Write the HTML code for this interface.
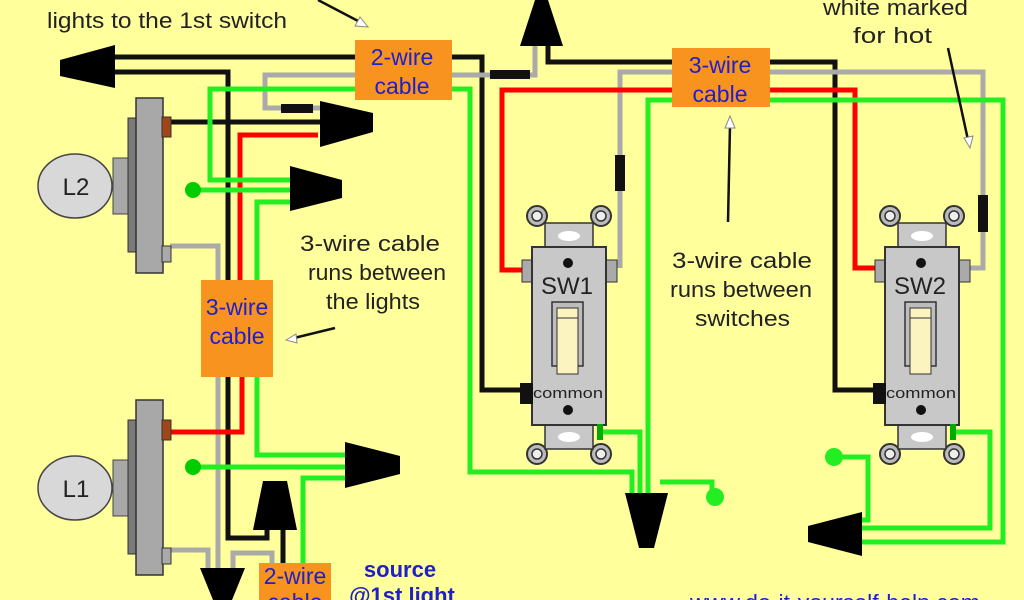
<!DOCTYPE html>
<html><head><meta charset="utf-8"><style>
html,body{margin:0;padding:0;background:#ffff9c;}
svg{display:block;}
text{font-family:"Liberation Sans",sans-serif;}
</style></head><body>
<svg width="1024" height="600" viewBox="0 0 1024 600" xmlns="http://www.w3.org/2000/svg">
<defs>
<g id="sw">
  <circle cx="537" cy="216" r="10" fill="#bbb" stroke="#333" stroke-width="2"/><circle cx="537" cy="216" r="5" fill="#eee" stroke="#333" stroke-width="1.5"/>
  <circle cx="601" cy="216" r="10" fill="#bbb" stroke="#333" stroke-width="2"/><circle cx="601" cy="216" r="5" fill="#eee" stroke="#333" stroke-width="1.5"/>
  <circle cx="537" cy="454" r="10" fill="#bbb" stroke="#333" stroke-width="2"/><circle cx="537" cy="454" r="5" fill="#eee" stroke="#333" stroke-width="1.5"/>
  <circle cx="601" cy="454" r="10" fill="#bbb" stroke="#333" stroke-width="2"/><circle cx="601" cy="454" r="5" fill="#eee" stroke="#333" stroke-width="1.5"/>
  <rect x="545" y="223" width="48" height="25" fill="#c8c8c8" stroke="#333" stroke-width="1.5"/>
  <ellipse cx="569" cy="236" rx="11" ry="5" fill="#fff"/>
  <rect x="545" y="424" width="48" height="25" fill="#c8c8c8" stroke="#333" stroke-width="1.5"/>
  <ellipse cx="569" cy="437" rx="11" ry="5" fill="#fff"/>
  <rect x="522" y="260" width="11" height="22" fill="#aaa" stroke="#333"/>
  <rect x="606" y="260" width="11" height="22" fill="#aaa" stroke="#333"/>
  <rect x="532" y="247" width="74" height="178" fill="#c8c8c8" stroke="#333" stroke-width="2"/>
  <rect x="520" y="383" width="13" height="21" fill="#111"/>
  <rect x="597" y="424" width="6" height="16" fill="#0a0"/>
  <circle cx="568" cy="263" r="5" fill="#111"/>
  <circle cx="568" cy="410" r="5" fill="#111"/>
  <rect x="552" y="302" width="31" height="64" fill="#bdbdbd" stroke="#333" stroke-width="1.5"/>
  <rect x="557" y="308" width="21" height="66" fill="#fbf3c0" stroke="#333" stroke-width="1"/>
  <line x1="557" y1="318" x2="578" y2="318" stroke="#333"/>
  <text x="533" y="398" font-size="15" textLength="70" lengthAdjust="spacingAndGlyphs" fill="#222">common</text>
</g>
<g id="fix">
  <ellipse cx="75" cy="0" rx="37" ry="32" fill="#d8d8d8" stroke="#444" stroke-width="1.5"/>
  <rect x="113" y="-28" width="18" height="56" fill="#a8a8a8" stroke="#444"/>
  <rect x="128" y="-68" width="10" height="134" fill="#7a7a7a" stroke="#333"/>
  <rect x="136" y="-88" width="27" height="175" fill="#a8a8a8" stroke="#333" stroke-width="1.5"/>
  <rect x="162" y="60" width="9" height="16" fill="#aaa" stroke="#333"/>
</g>
</defs>

<g fill="none" stroke-width="5">
<polyline points="115,57 482,57 482,390 525,390" stroke="#111"/>
<polyline points="115,72 228,72 228,538 267,538 267,505" stroke="#111"/>
<polyline points="452,75 535,75 535,40" stroke="#aaa"/>
<polyline points="355,75 265,75 265,108 320,108" stroke="#aaa"/>
<line x1="170" y1="122" x2="322" y2="122" stroke="#111"/>
<polyline points="318,135 240,135 240,280" stroke="#f00"/>
<polyline points="355,89 210,89 210,180 292,180" stroke="#2e2" />
<polyline points="292,202 257,202 257,280" stroke="#2e2"/>
<line x1="193" y1="190" x2="292" y2="190" stroke="#2e2"/>
<polyline points="170,246 218,246 218,280" stroke="#aaa"/>
<polyline points="452,89 470,89 470,472 632,472 632,495" stroke="#2e2"/>
<line x1="218" y1="377" x2="218" y2="600" stroke="#aaa"/>
<polyline points="242,377 242,432 170,432" stroke="#f00"/>
<polyline points="257,377 257,455 347,455" stroke="#2e2"/>
<line x1="193" y1="467" x2="347" y2="467" stroke="#2e2"/>
<polyline points="347,478 303,478 303,565" stroke="#2e2"/>
<line x1="283" y1="525" x2="283" y2="565" stroke="#111"/>
<polyline points="170,550 208,550 208,575" stroke="#aaa"/>
<polyline points="233,575 233,553 272,553 272,565" stroke="#aaa"/>
<polyline points="548,40 548,62 835,62 835,390 885,390" stroke="#111"/>
<polyline points="620,268 620,72 983,72 983,268 960,268" stroke="#aaa"/>
<polyline points="522,270 502,270 502,90 855,90 855,268 875,268" stroke="#f00"/>
<polyline points="648,495 648,100 1003,100 1003,542 860,542" stroke="#2e2"/>
<polyline points="600,432 640,432 640,495" stroke="#2e2"/>
<polyline points="660,482 712,482 712,497" stroke="#2e2"/>
<polyline points="952,432 990,432 990,528 860,528" stroke="#2e2"/>
<polyline points="833,457 868,457 868,520 860,520" stroke="#2e2"/>
</g>
<circle cx="193" cy="190" r="8" fill="#0c0"/>
<circle cx="193" cy="467" r="8" fill="#0c0"/>
<circle cx="715" cy="497" r="9" fill="#2e2"/>
<circle cx="834" cy="457" r="9" fill="#2e2"/>
<rect x="281" y="104" width="32" height="9" fill="#111"/>
<rect x="490" y="70" width="40" height="9" fill="#111"/>
<rect x="615" y="155" width="10" height="36" fill="#111"/>
<rect x="978" y="195" width="10" height="37" fill="#111"/>

<g fill="#000">
<polygon points="60,60 115,45 115,88 60,76"/>
<polygon points="320,101 373,113 373,132 320,147"/>
<polygon points="290,166 342,180 342,198 290,211"/>
<polygon points="345,442 400,456 400,474 345,488"/>
<polygon points="253,530 297,530 287,481 263,481"/>
<polygon points="200,568 245,568 232,600 213,600"/>
<polygon points="520,46 563,46 548,0 535,0"/>
<polygon points="625,493 668,493 654,548 639,548"/>
<polygon points="862,512 862,556 808,542 808,526"/>
</g>

<use href="#fix" transform="translate(0,186)"/>
<use href="#fix" transform="translate(0,488)"/>
<rect x="162" y="117" width="9" height="20" fill="#a0441a" stroke="#333"/>
<rect x="162" y="420" width="9" height="20" fill="#a0441a" stroke="#333"/>
<text x="76" y="195" font-size="24" text-anchor="middle" fill="#222">L2</text>
<text x="76" y="497" font-size="24" text-anchor="middle" fill="#222">L1</text>

<use href="#sw"/>
<use href="#sw" transform="translate(353,0)"/>
<text x="567" y="294" font-size="24" text-anchor="middle" fill="#222">SW1</text>
<text x="920" y="294" font-size="24" text-anchor="middle" fill="#222">SW2</text>

<g fill="#f7931e">
<rect x="355" y="40" width="97" height="60"/>
<rect x="672" y="48" width="98" height="59"/>
<rect x="201" y="280" width="72" height="97"/>
<rect x="259" y="563" width="72" height="40"/>
</g>
<g fill="#2020c8" font-size="23" text-anchor="middle">
<text x="402" y="65">2-wire</text><text x="402" y="94">cable</text>
<text x="720" y="73">3-wire</text><text x="720" y="102">cable</text>
<text x="237" y="315">3-wire</text><text x="237" y="344">cable</text>
<text x="295" y="584">2-wire</text><text x="295" y="610">cable</text>
</g>
<g fill="#2020c8" font-size="22" font-weight="bold" text-anchor="middle">
<text x="400" y="577">source</text><text x="402" y="603">@1st light</text>
</g>
<text x="690" y="610" font-size="22" fill="#2020c8" textLength="290" lengthAdjust="spacingAndGlyphs">www.do-it-yourself-help.com</text>

<g fill="#222" font-size="22">
<text x="47" y="28" textLength="240" lengthAdjust="spacingAndGlyphs">lights to the 1st switch</text>
<text x="300" y="251" textLength="140" lengthAdjust="spacingAndGlyphs">3-wire cable</text>
<text x="308" y="280" textLength="138" lengthAdjust="spacingAndGlyphs">runs between</text>
<text x="326" y="309" textLength="94" lengthAdjust="spacingAndGlyphs">the lights</text>
<text x="672" y="268" textLength="140" lengthAdjust="spacingAndGlyphs">3-wire cable</text>
<text x="670" y="297" textLength="142" lengthAdjust="spacingAndGlyphs">runs between</text>
<text x="695" y="326" textLength="95" lengthAdjust="spacingAndGlyphs">switches</text>
<text x="823" y="15" textLength="145" lengthAdjust="spacingAndGlyphs">white marked</text>
<text x="853" y="43" textLength="79" lengthAdjust="spacingAndGlyphs">for hot</text>
</g>
<g stroke="#111" stroke-width="2.5" fill="none">
<line x1="318" y1="0" x2="360" y2="22"/>
<line x1="335" y1="328" x2="294" y2="338"/>
<line x1="728" y1="222" x2="730" y2="125"/>
<line x1="948" y1="48" x2="968" y2="140"/>
</g>
<g fill="#fff" stroke="#888" stroke-width="1">
<polygon points="368,27 355,26 360,17"/>
<polygon points="286,340 296,334 297,343"/>
<polygon points="730,116 725,128 735,128"/>
<polygon points="970,148 964,138 973,136"/>
</g>
</svg>
</body></html>
